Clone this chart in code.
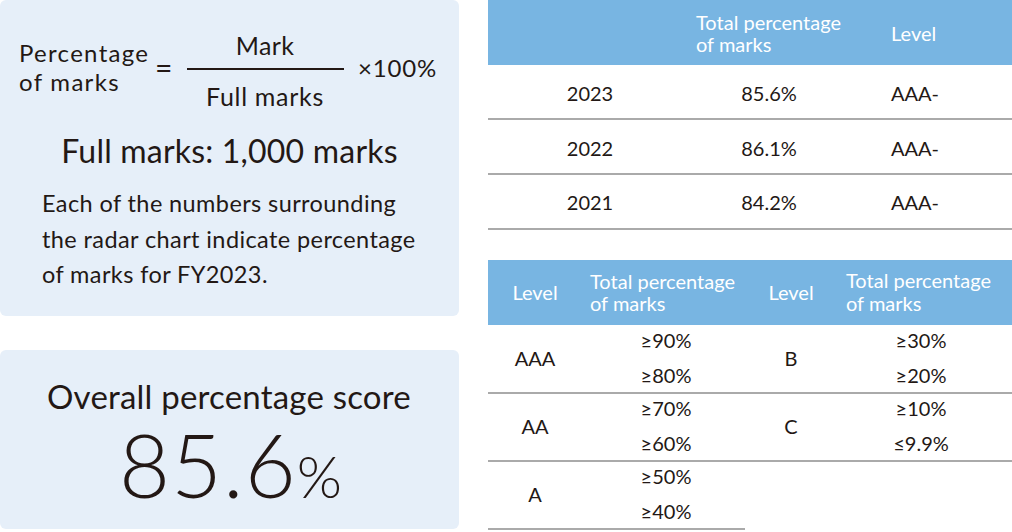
<!DOCTYPE html>
<html>
<head>
<meta charset="utf-8">
<script src="https://cdn.jsdelivr.net/npm/chart.js@4/dist/chart.umd.min.js"></script>
<style>
  html,body{margin:0;padding:0;background:#fff;}
  body{width:1012px;height:532px;position:relative;overflow:hidden;font-family:Lato,"Noto Sans",sans-serif;color:#231815;}
  .box{position:absolute;left:0;width:459px;background:#e6eff9;border-radius:6px;}
  .abs{position:absolute;white-space:nowrap;line-height:1;}
  .hdr{position:absolute;background:#78b5e2;}
  .line{position:absolute;height:2px;background:#aaaaaa;}
</style>
</head>
<body>
<div class="box" style="top:0;height:316px;"></div>
<div class="box" style="top:350px;height:179px;"></div>
<div id="root"></div>

<script>
const overallScore = "85.6";
const years = ["2023", "2022", "2021"];
const totals = ["85.6%", "86.1%", "84.2%"];
const levels = ["AAA-", "AAA-", "AAA-"];
const gradeLeft = ["AAA", "AA", "A"];
const rangeLeft = [["≥90%", "≥80%"], ["≥70%", "≥60%"], ["≥50%", "≥40%"]];
const gradeRight = ["B", "C"];
const rangeRight = [["≥30%", "≥20%"], ["≥10%", "≤9.9%"]];
const hdrTotal = ["Total percentage", "of marks"];
const hdrLevel = "Level";
const formulaLeft = ["Percentage", "of marks"];
const formulaNum = "Mark";
const formulaDen = "Full marks";
const formulaMul = "×100%";
const fullMarks = "Full marks: 1,000 marks";
const note = ["Each of the numbers surrounding", "the radar chart indicate percentage", "of marks for FY2023."];
const scoreTitle = "Overall percentage score";

const root = document.getElementById('root');
// place text so that its baseline sits at y (Lato: baseline at 0.887em with line-height 1)
function txt(t, x, base, size, opt){
  opt = opt || {};
  const d = document.createElement('div');
  d.className = 'abs';
  d.textContent = t;
  let s = 'top:' + (base - 0.887 * size) + 'px;font-size:' + size + 'px;height:' + size + 'px;';
  if (opt.ls) s += 'letter-spacing:' + opt.ls + 'px;';
  if (opt.color) s += 'color:' + opt.color + ';';
  if (opt.weight) s += 'font-weight:' + opt.weight + ';';
  if (opt.center) { s += 'left:' + x + 'px;transform:translateX(-50%);'; }
  else s += 'left:' + x + 'px;';
  d.setAttribute('style', s);
  root.appendChild(d);
  return d;
}
function rect(x, y, w, h, cls, color){
  const d = document.createElement('div');
  d.className = cls;
  let s = 'left:' + x + 'px;top:' + y + 'px;width:' + w + 'px;height:' + h + 'px;';
  if (color) s += 'background:' + color + ';position:absolute;';
  d.setAttribute('style', s);
  root.appendChild(d);
}

// formula box
txt(formulaLeft[0], 19, 62, 24, {ls:1.3});
txt(formulaLeft[1], 19, 91, 24, {ls:1.3});
txt("=", 155, 79, 30);
txt(formulaNum, 265, 55, 25, {center:true, ls:0.4});
rect(187, 68, 157, 2, '', '#231815');
txt(formulaDen, 265, 106, 25, {center:true, ls:0.7});
txt(formulaMul, 358, 77, 24, {ls:0.8});
txt(fullMarks, 229.5, 163, 32, {center:true, ls:0.2});
note.forEach((l, i) => txt(l, 42, 213 + i * 35.5, 23.5, {ls:0.4}));

// score box
txt(scoreTitle, 229, 409, 33, {center:true, ls:0.2});
const sc = txt(overallScore, 119, 498, 88, {weight:300, ls:1});
const pc = document.createElement('span');
pc.textContent = '%';
pc.setAttribute('style', 'font-size:58px;letter-spacing:0;');
sc.appendChild(pc);

// table 1
rect(488, 0, 524, 65, 'hdr');
txt(hdrTotal[0], 696, 30, 20, {color:'#fff'});
txt(hdrTotal[1], 696, 52, 20, {color:'#fff'});
txt(hdrLevel, 891, 41, 20, {color:'#fff'});
years.forEach((y, i) => {
  const b = 101 + i * 54.5;
  txt(y, 590, b, 20, {center:true});
  txt(totals[i], 769, b, 20, {center:true});
  txt(levels[i], 891, b, 20);
  rect(488, 118 + i * 55, 524, 2, 'line');
});

// table 2
rect(488, 260, 524, 65, 'hdr');
txt(hdrLevel, 535, 300, 20, {color:'#fff', center:true});
txt(hdrTotal[0], 590, 289, 20, {color:'#fff'});
txt(hdrTotal[1], 590, 311, 20, {color:'#fff'});
txt(hdrLevel, 791, 300, 20, {color:'#fff', center:true});
txt(hdrTotal[0], 846, 288, 20, {color:'#fff'});
txt(hdrTotal[1], 846, 311, 20, {color:'#fff'});
gradeLeft.forEach((g, i) => {
  const o = i * 68;
  txt(g, 535, 366 + o, 20, {center:true});
  txt(rangeLeft[i][0], 666, 348 + o, 20, {center:true});
  txt(rangeLeft[i][1], 666, 383 + o, 20, {center:true});
  rect(488, 392 + o, 257, 2, 'line');
});
gradeRight.forEach((g, i) => {
  const o = i * 68;
  txt(g, 791, 366 + o, 20, {center:true});
  txt(rangeRight[i][0], 921, 348 + o, 20, {center:true});
  txt(rangeRight[i][1], 921, 383 + o, 20, {center:true});
  rect(745, 392 + o, 267, 2, 'line');
});
</script>
</body>
</html>
